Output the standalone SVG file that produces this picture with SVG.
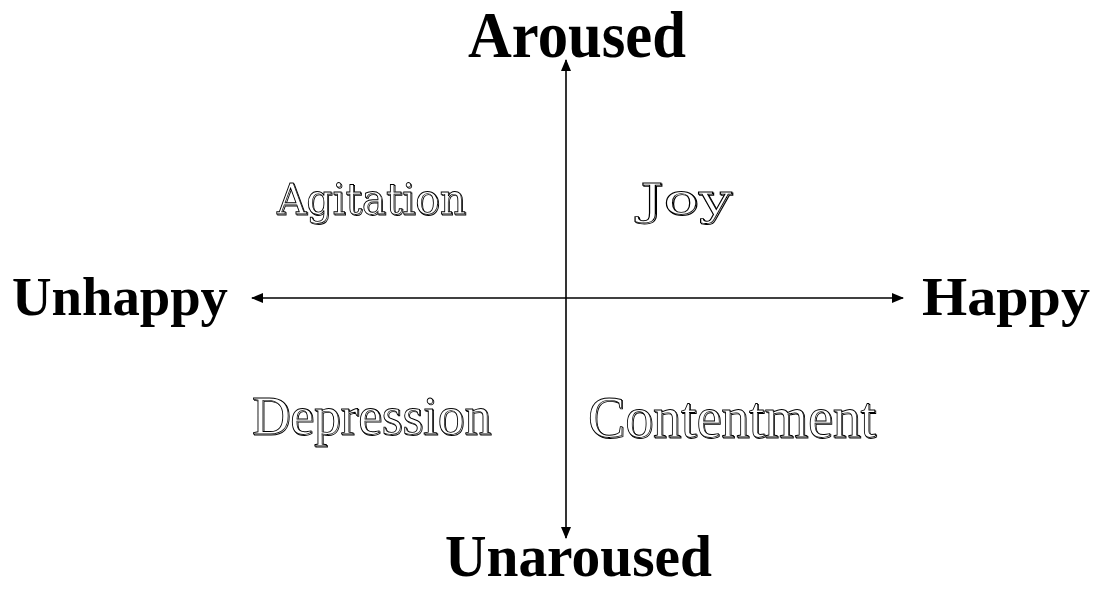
<svg xmlns="http://www.w3.org/2000/svg" width="1099" height="590" viewBox="0 0 1099 590">
<style>
.axis{font-family:"Liberation Serif","Times New Roman",serif;font-weight:bold;fill:#000}
.quad{font-family:"Liberation Serif","Times New Roman",serif;fill:#fff;stroke:#000;stroke-width:0.9;filter:url(#dbl)}
.wide{font-family:"DejaVu Serif","Liberation Serif",serif}
.line{stroke:#000;stroke-width:1.6;fill:none}
</style>
<defs>
<marker id="ah" viewBox="0 0 12 10" refX="11" refY="5" markerWidth="12" markerHeight="10" markerUnits="userSpaceOnUse" orient="auto">
<path d="M0,0 L12,5 L0,10 Z" fill="#000"/>
</marker>
<filter id="dbl" x="-5%" y="-10%" width="110%" height="130%">
<feOffset in="SourceGraphic" dx="1.3" dy="1.3" result="off"/>
<feMerge><feMergeNode in="off"/><feMergeNode in="SourceGraphic"/></feMerge>
</filter>
</defs>
<rect width="1099" height="590" fill="#fff"/>
<g id="connectors">
<line class="line" x1="566" y1="298" x2="566" y2="60" marker-end="url(#ah)"/>
<line class="line" x1="566" y1="298" x2="566" y2="538" marker-end="url(#ah)"/>
<line class="line" x1="566" y1="298" x2="252" y2="298" marker-end="url(#ah)"/>
<line class="line" x1="566" y1="298" x2="903" y2="298" marker-end="url(#ah)"/>
</g>
<g id="aroused"><text class="axis" x="468" y="57" font-size="66" textLength="218" lengthAdjust="spacingAndGlyphs">Aroused</text></g>
<g id="unaroused"><text class="axis" x="445" y="576" font-size="60" textLength="267" lengthAdjust="spacingAndGlyphs">Unaroused</text></g>
<g id="unhappy"><text class="axis" x="12" y="315" font-size="54" textLength="216" lengthAdjust="spacingAndGlyphs">Unhappy</text></g>
<g id="happy"><text class="axis" x="922" y="315" font-size="54" textLength="168" lengthAdjust="spacingAndGlyphs">Happy</text></g>
<g id="agitation"><text class="quad wide" x="277" y="214" font-size="42" textLength="189" lengthAdjust="spacingAndGlyphs">Agitation</text></g>
<g id="joy"><text class="quad wide" x="640" y="214" font-size="42" textLength="92" lengthAdjust="spacingAndGlyphs">Joy</text></g>
<g id="depression"><text class="quad" x="252" y="434" font-size="54" textLength="239" lengthAdjust="spacingAndGlyphs">Depression</text></g>
<g id="contentment"><text class="quad" x="588" y="437" font-size="60" textLength="288" lengthAdjust="spacingAndGlyphs">Contentment</text></g>
</svg>
